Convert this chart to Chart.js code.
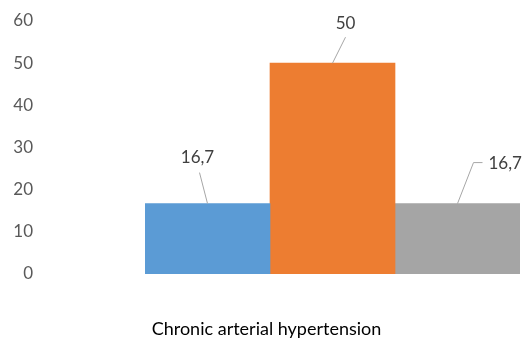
<!DOCTYPE html>
<html>
<head>
<meta charset="utf-8">
<script src="https://cdn.jsdelivr.net/npm/chart.js@4"></script>
<style>
  html, body { margin: 0; padding: 0; background: #fff; }
  #wrap { width: 525px; height: 340px; }
</style>
</head>
<body>
<div id="wrap"><canvas id="myChart"></canvas></div>
<script>
// chart values
let categories = ["Chronic arterial hypertension"];
let seriesNames = ["Series 1", "Series 2", "Series 3"];
let seriesValues = [[16.7], [50], [16.7]];
let seriesColors = ["#5B9BD5", "#ED7D31", "#A5A5A5"];
let yTicks = [0, 10, 20, 30, 40, 50, 60];

// where each data label sits relative to its bar top (leader line points, then text)
let labelOffsets = [
  { line: [[-8, -31]], text: [-10, -46], align: "center" },
  { line: [[13, -26]], text: [13, -40], align: "center" },
  { line: [[16, -41], [25, -41]], text: [31, -40], align: "left" },
];

let dataLabels = {
  id: "dataLabels",
  afterDatasetsDraw(chart) {
    let ctx = chart.ctx;
    chart.data.datasets.forEach((ds, i) => {
      let bar = chart.getDatasetMeta(i).data[0];
      let off = labelOffsets[i];
      ctx.save();
      ctx.strokeStyle = "#a6a6a6";
      ctx.lineWidth = 1;
      ctx.beginPath();
      ctx.moveTo(bar.x, bar.y);
      off.line.forEach((p) => ctx.lineTo(bar.x + p[0], bar.y + p[1]));
      ctx.stroke();
      ctx.fillStyle = "#404040";
      ctx.font = "17px Lato";
      ctx.textAlign = off.align;
      ctx.textBaseline = "middle";
      let txt = String(ds.data[0]).replace(".", ",");
      ctx.fillText(txt, bar.x + off.text[0], bar.y + off.text[1]);
      ctx.restore();
    });
  },
};

const data = {
  labels: categories,
  datasets: seriesNames.map((name, i) => ({
    label: name,
    data: seriesValues[i],
    backgroundColor: seriesColors[i],
    borderWidth: 0,
    categoryPercentage: 1,
    barPercentage: 1,
  })),
};

const config = {
  type: "bar",
  data,
  options: {
    responsive: true,
    maintainAspectRatio: false,
    animation: false,
    layout: { padding: { left: 0, right: 5, top: 21, bottom: 0 } },
    plugins: {
      legend: { display: false },
      tooltip: { enabled: false },
    },
    scales: {
      x: {
        grid: { display: false, drawTicks: false },
        border: { display: false },
        ticks: {
          color: "#000",
          font: { family: "Lato", size: 18 },
          padding: 44,
          labelOffset: -66,
        },
        afterFit: (scale) => {
          scale.height = 66;
          scale.paddingLeft = 0;
          scale.paddingRight = 0;
        },
      },
      y: {
        min: 0,
        max: 60,
        afterBuildTicks: (scale) => {
          scale.ticks = yTicks.map((v) => ({ value: v }));
        },
        grid: { display: false, drawTicks: false },
        border: { display: false },
        ticks: {
          color: "#595959",
          font: { family: "Lato", size: 17 },
          padding: 112,
        },
        afterFit: (scale) => {
          scale.width = 145;
          scale.paddingTop = 0;
          scale.paddingBottom = 0;
        },
      },
    },
  },
  plugins: [dataLabels],
};

let myChart = new Chart(document.getElementById("myChart"), config);
</script>
</body>
</html>
